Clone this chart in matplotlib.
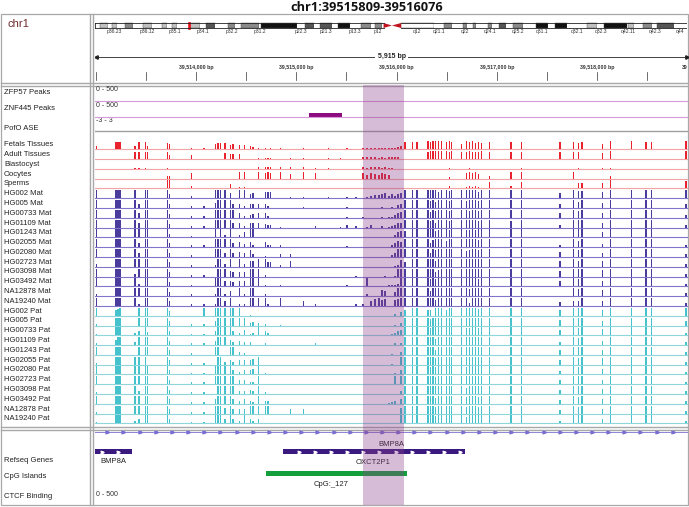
import numpy as np
import matplotlib.pyplot as plt
from matplotlib.patches import Rectangle, Polygon

W, H = 689, 507

title = "chr1:39515809-39516076"
region_start = 39512995
region_end = 39518905
roi = (39515670, 39516070)

# cytobands of chr1 (Mb)
band_name = ['p36.33', 'p36.32', 'p36.31', 'p36.23', 'p36.22', 'p36.21', 'p36.13', 'p36.12',
             'p36.11', 'p35.3', 'p35.2', 'p35.1', 'p34.3', 'p34.2', 'p34.1', 'p33', 'p32.3',
             'p32.2', 'p32.1', 'p31.3', 'p31.2', 'p31.1', 'p22.3', 'p22.2', 'p22.1', 'p21.3',
             'p21.2', 'p21.1', 'p13.3', 'p13.2', 'p13.1', 'p12', 'p11.2', 'p11.1', 'q11', 'q12',
             'q21.1', 'q21.2', 'q21.3', 'q22', 'q23.1', 'q23.2', 'q23.3', 'q24.1', 'q24.2',
             'q24.3', 'q25.1', 'q25.2', 'q25.3', 'q31.1', 'q31.2', 'q31.3', 'q32.1', 'q32.2',
             'q32.3', 'q41', 'q42.11', 'q42.12', 'q42.13', 'q42.2', 'q42.3', 'q43', 'q44']
band_start = [0, 2.3, 5.4, 7.2, 9.2, 12.7, 16.2, 20.4, 23.9, 28.0, 30.2, 32.4, 34.6, 40.1, 44.1,
              46.8, 50.7, 56.1, 59.0, 61.3, 68.9, 69.7, 84.9, 88.4, 92.0, 94.7, 99.7, 102.2,
              107.2, 111.8, 116.1, 117.8, 120.7, 121.5, 125.0, 128.9, 142.6, 147.0, 150.3,
              155.0, 156.5, 159.1, 160.5, 165.5, 167.2, 170.3, 172.9, 176.0, 180.3, 185.8,
              190.8, 193.8, 198.7, 207.2, 211.5, 214.5, 224.1, 224.6, 227.0, 230.7, 234.7,
              236.6, 243.7]
band_end = band_start[1:] + [249.25]
band_stain = ['gneg', 'gpos25', 'gneg', 'gpos25', 'gneg', 'gpos50', 'gneg', 'gpos25', 'gneg',
              'gpos25', 'gneg', 'gpos25', 'gneg', 'gpos25', 'gneg', 'gpos75', 'gneg', 'gpos50',
              'gneg', 'gpos50', 'gneg', 'gpos100', 'gneg', 'gpos75', 'gneg', 'gpos75', 'gneg',
              'gpos100', 'gneg', 'gpos50', 'gneg', 'gpos50', 'gneg', 'acen', 'acen', 'gvar',
              'gneg', 'gpos50', 'gneg', 'gpos50', 'gneg', 'gpos50', 'gneg', 'gpos50', 'gneg',
              'gpos75', 'gneg', 'gpos50', 'gneg', 'gpos100', 'gneg', 'gpos100', 'gneg', 'gpos25',
              'gneg', 'gpos100', 'gneg', 'gpos25', 'gneg', 'gpos50', 'gneg', 'gpos75', 'gneg']
shown_bands = ['p36.23', 'p36.12', 'p35.1', 'p34.1', 'p32.2', 'p31.2', 'p22.3', 'p21.3', 'p13.3',
               'p12', 'q12', 'q21.1', 'q22', 'q24.1', 'q25.2', 'q31.1', 'q32.1', 'q32.3',
               'q42.11', 'q42.3', 'q44']
current_mb = 39.6

# CpG sites (bp offset from view start)
site_offset = [15, 210, 230, 250, 400, 440, 500, 525, 720, 745, 960, 1085, 1200, 1225, 1250,
               1295, 1350, 1375, 1440, 1490, 1550, 1575, 1630, 1700, 1725, 1750, 1850, 1950,
               2080, 2200, 2330, 2450, 2510, 2600, 2670, 2710, 2750, 2790, 2830, 2860, 2890,
               2930, 2960, 2990, 3020, 3050, 3090, 3165, 3210, 3320, 3345, 3370, 3395, 3420,
               3450, 3505, 3530, 3555, 3650, 3700, 3730, 3760, 3790, 3820, 3850, 3935, 4145,
               4250, 4635, 4770, 4820, 4855, 5055, 5140, 5350, 5490, 5545, 5890]
seg_len = [1, 3, 4, 2, 1, 1, 3, 1, 2, 1, 1, 2, 1, 3, 8, 12, 3, 6, 3, 7, 1, 2, 1, 3, 2, 3, 1]

# methylation level per site, 0-9
tissue_names = ['Fetals Tissues', 'Adult Tissues', 'Blastocyst', 'Oocytes', 'Sperms']
tissue_vals = [
    "4 888 4884 76 2 2 677 7 56 5 5 43 1 101 10101010 111111112234 888 989999 898 6989787 8 88 8 878 69 988 9",
    "0 000 8888 85 5 0 000 7 66 6 0 00 1 111 01101100 222212122220 000 899999 989 8898889 8 88 8 880 79 000 9",
    "0 000 1110 10 0 0 000 0 00 0 0 00 2 222 22211000 212221211000 000 000000 010 0010000 0 01 0 010 11 000 0",
    "0 000 0000 33 6 0 000 0 00 7 7 00 7 676 75760000 646546540000 000 000000 020 0676750 3 77 0 800 03 000 0",
    "0 000 0000 99 3 0 000 0 50 2 2 00 1 000 00000000 000001000000 000 000000 030 0232320 7 37 0 066 69 000 8",
]
mat_names = ['HG002 Mat', 'HG005 Mat', 'HG00733 Mat', 'HG01109 Mat', 'HG01243 Mat', 'HG02055 Mat',
             'HG02080 Mat', 'HG02723 Mat', 'HG03098 Mat', 'HG03492 Mat', 'NA12878 Mat', 'NA19240 Mat']
mat_vals = [
    "9 999 9099 95 2 0 999 9 60 9 9 56 0 777 01101011 013445625356 999 999979 989 9999979 9 99 6 988 79 999 9",
    "9 999 9599 95 2 2 699 9 95 5 2 45 5 520 00100010 000001001035 999 989799 989 9899989 9 99 5 979 69 999 5",
    "9 999 9599 94 2 2 999 9 99 5 2 34 5 520 00000010 100001011356 999 979899 989 9989989 9 99 5 989 59 999 3",
    "9 999 9599 94 2 2 999 9 95 5 2 55 5 433 10020132 013002012355 999 979599 989 9999989 9 89 3 999 59 999 3",
    "9 999 9999 94 2 0 909 3 90 3 6 99 0 000 00000000 010000000367 799 999789 989 9889899 9 99 0 999 69 999 0",
    "9 999 9599 95 2 2 999 9 95 6 4 63 0 633 20000010 000000002576 999 958999 799 9999989 9 99 3 979 49 999 3",
    "9 999 9599 95 2 0 999 5 95 6 4 83 0 100 33000000 000000002599 999 959899 999 9789989 9 99 6 989 59 999 3",
    "3 999 9999 95 2 0 299 3 90 9 3 66 9 955 27000000 000000000128 599 999799 999 9999999 9 99 6 979 79 999 3",
    "9 999 3999 95 2 2 099 9 65 5 5 99 9 200 00000001 000000100199 999 999579 999 9989999 9 99 6 998 79 999 3",
    "9 999 9399 95 2 0 999 6 65 6 6 99 9 200 20000010 090000011239 999 989899 999 9999989 9 99 6 989 69 999 3",
    "2 999 9999 95 2 0 299 2 60 9 2 99 0 200 00000000 020007600599 999 969999 999 9989999 9 99 0 989 79 999 3",
    "9 999 9299 95 2 2 299 6 90 2 2 99 9 920 90620002 206897800789 999 999799 999 9939999 9 99 4 669 69 999 3",
]
pat_names = ['HG002 Pat', 'HG005 Pat', 'HG00733 Pat', 'HG01109 Pat', 'HG01243 Pat', 'HG02055 Pat',
             'HG02080 Pat', 'HG02723 Pat', 'HG03098 Pat', 'HG03492 Pat', 'NA12878 Pat', 'NA19240 Pat']
pat_vals = [
    "9 789 0999 95 0 9 999 9 99 9 0 10 0 000 00000000 000000000204 699 770999 799 9999989 9 99 6 999 69 999 9",
    "2 999 0999 95 2 2 599 9 99 9 9 34 3 200 10000000 000000000103 999 979899 999 9889989 9 99 6 989 59 999 5",
    "2 999 3594 95 2 2 599 9 95 3 6 23 9 530 00000000 000000002356 999 989999 999 9889989 9 99 6 989 79 999 3",
    "2 699 3999 95 2 2 599 9 63 5 3 30 0 200 00020000 000000000202 999 999799 999 9999999 9 99 4 989 59 999 3",
    "9 999 0999 95 2 0 990 0 99 3 2 00 0 000 00000000 000000001003 999 999599 999 9999999 9 99 5 999 59 999 3",
    "2 999 9990 95 2 2 099 3 53 5 5 56 9 000 00000000 000000001009 999 999899 999 9999999 9 99 5 989 79 999 3",
    "9 999 9999 95 2 2 999 9 95 3 5 56 9 200 00000000 000000100205 999 989899 999 9899999 9 99 4 989 69 999 3",
    "9 999 9999 95 2 3 999 9 99 5 5 33 9 000 00000000 000000000909 999 999899 999 9999999 9 99 5 999 59 999 3",
    "2 999 9399 95 2 2 099 9 99 3 3 53 9 200 00000000 000000000003 999 999999 999 9799999 9 99 5 999 69 999 3",
    "9 999 9999 95 2 2 599 9 95 3 5 32 9 330 00000000 000000012305 999 999799 999 9899989 9 99 4 989 59 999 3",
    "2 999 9999 95 2 2 999 6 95 5 5 99 9 990 05500000 000000000006 999 999799 999 9899989 9 99 4 989 59 999 3",
    "2 999 3599 95 2 2 999 5 95 3 9 53 5 000 00000000 000000001009 999 999899 999 9799999 9 99 3 999 59 999 3",
]

# annotation features (bp)
peak_znf445 = (39515125, 39515455)
gene_line = (39512900, 39519000)
gene_left = (39512900, 39513365)
gene_right = (39514865, 39516685)
cpg_island = (39514695, 39516105)

# ---------------------------------------------------------------------------
plt.rcParams['font.family'] = ['Liberation Sans', 'DejaVu Sans']
fig = plt.figure(figsize=(W / 100, H / 100), dpi=100)


def px_rect(x0, x1):
    return [x0 / W, 0, (x1 - x0) / W, 1]


bg = fig.add_axes([0, 0, 1, 1])
bg.set_xlim(0, W)
bg.set_ylim(H, 0)
bg.axis('off')

frame = '#a8a8a8'
# frames
bg.add_patch(Rectangle((0.5, 14), 687.5, 491, fill=False, ec=frame, lw=0.9))
for yy in (83, 85.5, 427, 429.5):
    bg.plot([0.5, 688], [yy, yy], color=frame, lw=1.0)
for xx in (90, 92.5):
    bg.plot([xx, xx], [14, 505], color=frame, lw=1.0)

bg.text(367, 7.5, title, ha='center', va='center', fontsize=9.2, fontweight='bold',
        family='Open Sans', color='#111111')
bg.text(7, 24, 'chr1', ha='left', va='center', fontsize=8, color='#6e2b2b')

lab = dict(ha='left', va='center', fontsize=5.5, color='#222222')
bg.text(4, 92, 'ZFP57 Peaks', **lab)
bg.text(4, 109, 'ZNF445 Peaks', **lab)
bg.text(4, 128, 'PofO ASE', **lab)
bg.text(4, 461, 'Refseq Genes', **lab)
bg.text(4, 477, 'CpG Islands', **lab)
bg.text(4, 496, 'CTCF Binding', **lab)
rng = dict(ha='left', va='center', fontsize=5, color='#333333')
bg.text(96, 89.5, '0 - 500', **rng)
bg.text(96, 105.5, '0 - 500', **rng)
bg.text(96, 121, '-3 - 3', **rng)
bg.text(96, 494, '0 - 500', **rng)

# ideogram
stain_color = {'gneg': 'white', 'gpos25': '#c0c0c0', 'gpos50': '#8a8a8a', 'gpos75': '#555555',
               'gpos100': '#111111', 'gvar': 'white', 'acen': '#c0141e'}
ideo = fig.add_axes(px_rect(95, 687))
ideo.set_xlim(0, 249.25)
ideo.set_ylim(H, 0)
ideo.axis('off')
for name, s, e, st in zip(band_name, band_start, band_end, band_stain):
    if st == 'acen':
        continue
    ideo.add_patch(Rectangle((s, 23), e - s, 5, fc=stain_color[st],
                             ec='#444444' if st != 'gneg' else 'none', lw=0.3))
    if name in shown_bands:
        ideo.text((s + e) / 2, 32, name, ha='center', va='center', fontsize=3.6, color='#333333')
p11 = band_name.index('p11.1')
q11 = band_name.index('q11')
ideo.add_patch(Polygon([(band_start[p11], 23), (band_end[p11], 25.5), (band_start[p11], 28)],
                       fc=stain_color['acen'], ec='none'))
ideo.add_patch(Polygon([(band_end[q11], 23), (band_start[q11], 25.5), (band_end[q11], 28)],
                       fc=stain_color['acen'], ec='none'))
ideo.plot([0, band_start[p11]], [23, 23], color='#222222', lw=0.6)
ideo.plot([0, band_start[p11]], [28, 28], color='#222222', lw=0.6)
ideo.plot([band_end[q11], 249.25], [23, 23], color='#222222', lw=0.6)
ideo.plot([band_end[q11], 249.25], [28, 28], color='#222222', lw=0.6)
ideo.plot([0, 0], [23, 28], color='#222222', lw=0.6)
ideo.plot([249.25, 249.25], [23, 28], color='#222222', lw=0.6)
ideo.add_patch(Rectangle((current_mb - 0.5, 22), 1.0, 7, fc='#e8101a', ec='#e8101a', lw=0.5))

# data panel
ax = fig.add_axes(px_rect(95, 688))
ax.set_xlim(region_start, region_end)
ax.set_ylim(H, 0)
ax.axis('off')

# ruler
span = region_end - region_start
ax.plot([region_start + 10, region_end - 10], [56.5, 56.5], color='#222222', lw=0.6)
ax.plot([region_start + 10], [56.5], marker='<', ms=2.5, color='#222222')
ax.plot([region_end - 10], [56.5], marker='>', ms=2.5, color='#222222')
ax.text((region_start + region_end) / 2, 56.5, '{:,} bp'.format(span + 5), ha='center', va='center',
        fontsize=5, fontweight='bold', color='#222222',
        bbox=dict(fc='white', ec='none', pad=1.5))
for t in range(39513000, 39519001, 500):
    ax.plot([t, t], [72, 80], color='#333333', lw=0.5, clip_on=True)
    if t % 1000 == 0 and 39514000 <= t <= 39518000:
        ax.text(t, 67.3, '{:,} bp'.format(t), ha='center', va='center', fontsize=3.8,
                fontweight='bold', color='#333333')
# the next label is cut by the panel edge, only its first digits show
bg.text(682, 67.3, '39', ha='left', va='center', fontsize=3.8, fontweight='bold', color='#333333')

# peak tracks
ax.axhline(101, color='#d99ad9', lw=0.8)
ax.axhline(117, color='#d99ad9', lw=0.8)
ax.add_patch(Rectangle((peak_znf445[0], 113), peak_znf445[1] - peak_znf445[0], 4.3,
                       fc='#8c0b80', ec='none'))
ax.axhline(130.5, color='#a0a0a0', lw=1.0)

cpg_sites = region_start + np.array(site_offset)


def parse(code, name):
    parts = code.split()
    if [len(p) for p in parts] != seg_len:
        raise ValueError(name + ' ' + str([len(p) for p in parts]))
    return np.array([int(c) for c in ''.join(parts)])


def draw_track(i, name, code, color, line_color):
    base = 149.3 + 9.79 * i
    vals = parse(code, name)
    ax.axhline(base, color=line_color, lw=0.8, zorder=1)
    m = vals > 0
    ax.bar(cpg_sites[m], -vals[m] * 8.0 / 9, bottom=base, width=13, color=color,
           linewidth=0, zorder=2)
    bg.text(4, base - 4.6, name, **lab)


i = 0
for name, code in zip(tissue_names, tissue_vals):
    draw_track(i, name, code, '#e8232e', '#f3a3a3')
    i += 1
for name, code in zip(mat_names, mat_vals):
    draw_track(i, name, code, '#4a3c9c', '#8074cc')
    i += 1
for name, code in zip(pat_names, pat_vals):
    draw_track(i, name, code, '#45c2cb', '#8fd6dc')
    i += 1

# refseq genes
gcol = '#7a6fd0'
ax.plot(gene_line, [431.5, 431.5], color=gcol, lw=0.6, zorder=3)
for a in np.arange(region_start + 123, region_end, 161):
    ax.plot(a, 431.5, marker=r'$>$', ms=2.2, color=gcol, zorder=3)
ax.text((region_start + region_end) / 2, 444, 'BMP8A', ha='center', va='center', fontsize=5.5,
        color='#222222', zorder=3)
for g in (gene_left, gene_right):
    ax.add_patch(Rectangle((g[0], 449.3), g[1] - g[0], 4.7, fc='#3b1a80', ec='none', zorder=3))
    for a in np.arange(g[0] + 160, g[1] - 40, 161):
        ax.plot(a, 451.6, marker=r'$>$', ms=2.0, color='white', zorder=4)
ax.text((max(gene_left[0], region_start) + gene_left[1]) / 2, 461.5, 'BMP8A', ha='center',
        va='center', fontsize=5.5, color='#222222')
ax.text(39515765, 463, 'OXCT2P1', ha='center', va='center', fontsize=5.5, color='#222222')

# CpG island
ax.add_patch(Rectangle((cpg_island[0], 471), cpg_island[1] - cpg_island[0], 5,
                       fc='#13a03c', ec='none', zorder=3))
ax.text(39515345, 485, 'CpG:_127', ha='center', va='center', fontsize=5.5, color='#222222')

# region of interest
ax.add_patch(Rectangle((roi[0], 84.5), roi[1] - roi[0], 420.5, fc=(0.55, 0.25, 0.55),
                       alpha=0.35, ec='none', zorder=5))

fig.savefig('out.png', dpi=100)
